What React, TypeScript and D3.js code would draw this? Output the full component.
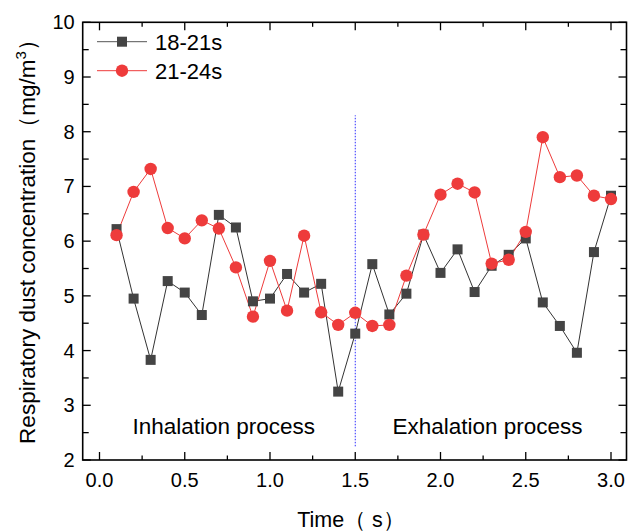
import React from "react";
import * as d3 from "d3";

const times = [0.1,0.2,0.3,0.4,0.5,0.6,0.7,0.8,0.9,1.0,1.1,1.2,1.3,1.4,1.5,1.6,1.7,1.8,1.9,2.0,2.1,2.2,2.3,2.4,2.5,2.6,2.7,2.8,2.9,3.0];
const series1821 = [6.22,4.95,3.83,5.27,5.06,4.65,6.48,6.25,4.90,4.95,5.40,5.06,5.22,3.25,4.31,5.58,4.66,5.04,6.12,5.42,5.85,5.07,5.55,5.75,6.05,4.88,4.45,3.96,5.80,6.83];
const series2124 = [6.11,6.90,7.32,6.24,6.05,6.38,6.23,5.52,4.62,5.64,4.73,6.10,4.70,4.47,4.69,4.45,4.47,5.37,6.12,6.85,7.05,6.89,5.59,5.66,6.17,7.90,7.17,7.20,6.83,6.77];
const xTicks = [0, 0.5, 1.0, 1.5, 2.0, 2.5, 3.0];
const yTicks = [2, 3, 4, 5, 6, 7, 8, 9, 10];
const legendLabels = ["18-21s", "21-24s"];
const divider = { x: 1.5, y0: 2.25, y1: 8.3 };

const W = 629, H = 531;
const L = 82.7, R = 626.5, T = 22.3, B = 460;

export default function App() {
  const x = d3.scaleLinear().domain([0, 3]).range([99.5, 611]);
  const y = d3.scaleLinear().domain([2, 10]).range([B, T]);
  const line = d3.line<number>().x((_, i) => x(times[i])).y((d) => y(d));
  const xMinor = d3.range(0, 3.01, 0.25).filter((v) => Math.abs(v * 2 - Math.round(v * 2)) > 1e-6);
  const yMinor = d3.range(2.5, 10, 1);
  const black = "#444444";
  const red = "#ee3b3b";
  const font = "Liberation Sans, Arial, sans-serif";
  return (
    <svg width={W} height={H} style={{ position: "absolute", left: 0, top: 0, background: "#fff" }}>
      <rect x={0} y={0} width={W} height={H} fill="#fff" />
      {/* divider */}
      <line x1={x(divider.x)} x2={x(divider.x)} y1={y(divider.y0)} y2={y(divider.y1)} stroke="#2b2bff" strokeWidth={1} strokeDasharray="1.5,1.5" />
      {/* series lines */}
      <path d={line(series1821) || ""} fill="none" stroke="#333" strokeWidth={1} />
      <path d={line(series2124) || ""} fill="none" stroke={red} strokeWidth={1} />
      {series1821.map((v, i) => (
        <rect key={"s" + i} x={x(times[i]) - 5} y={y(v) - 5} width={10} height={10} fill={black} />
      ))}
      {series2124.map((v, i) => (
        <circle key={"c" + i} cx={x(times[i])} cy={y(v)} r={6.2} fill={red} />
      ))}
      {/* frame */}
      <rect x={L} y={T} width={R - L} height={B - T} fill="none" stroke="#000" strokeWidth={1.6} />
      {/* x ticks */}
      {xTicks.map((t) => (
        <g key={"xt" + t}>
          <line x1={x(t)} x2={x(t)} y1={B} y2={B - 8} stroke="#000" strokeWidth={1.3} />
          <line x1={x(t)} x2={x(t)} y1={T} y2={T + 8} stroke="#000" strokeWidth={1.3} />
          <text x={x(t)} y={B + 27} textAnchor="middle" fontFamily={font} fontSize={20}>{t.toFixed(1)}</text>
        </g>
      ))}
      {xMinor.map((t) => (
        <g key={"xm" + t}>
          <line x1={x(t)} x2={x(t)} y1={B} y2={B - 4.5} stroke="#000" strokeWidth={1.3} />
          <line x1={x(t)} x2={x(t)} y1={T} y2={T + 4.5} stroke="#000" strokeWidth={1.3} />
        </g>
      ))}
      {/* y ticks */}
      {yTicks.map((t) => (
        <g key={"yt" + t}>
          <line x1={L} x2={L + 8} y1={y(t)} y2={y(t)} stroke="#000" strokeWidth={1.3} />
          <line x1={R} x2={R - 8} y1={y(t)} y2={y(t)} stroke="#000" strokeWidth={1.3} />
          <text x={L - 8} y={y(t) + 7} textAnchor="end" fontFamily={font} fontSize={20}>{t}</text>
        </g>
      ))}
      {yMinor.map((t) => (
        <g key={"ym" + t}>
          <line x1={L} x2={L + 6} y1={y(t)} y2={y(t)} stroke="#000" strokeWidth={1.3} />
          <line x1={R} x2={R - 6} y1={y(t)} y2={y(t)} stroke="#000" strokeWidth={1.3} />
        </g>
      ))}
      {/* annotations */}
      <text x={223.7} y={433.5} textAnchor="middle" fontFamily={font} fontSize={22.5}>Inhalation process</text>
      <text x={487.5} y={433.5} textAnchor="middle" fontFamily={font} fontSize={22.5}>Exhalation process</text>
      {/* legend */}
      <line x1={97} x2={147} y1={41.7} y2={41.7} stroke="#555" strokeWidth={1} />
      <rect x={117} y={36.7} width={10} height={10} fill={black} />
      <text x={155} y={49.5} fontFamily={font} fontSize={22}>{legendLabels[0]}</text>
      <line x1={97} x2={147} y1={70.7} y2={70.7} stroke={red} strokeWidth={1} />
      <circle cx={122} cy={70.7} r={6.2} fill={red} />
      <text x={155} y={78.5} fontFamily={font} fontSize={22}>{legendLabels[1]}</text>
      {/* axis titles */}
      <text x={351} y={527} textAnchor="middle" fontFamily={font} fontSize={21.5}>Time（ s）</text>
      <text transform={`translate(35,${236}) rotate(-90)`} textAnchor="middle" fontFamily={font} fontSize={22.5}>
        Respiratory dust concentration（mg/m<tspan dy={-9} fontSize={15}>3</tspan><tspan dy={9}>）</tspan>
      </text>
    </svg>
  );
}
